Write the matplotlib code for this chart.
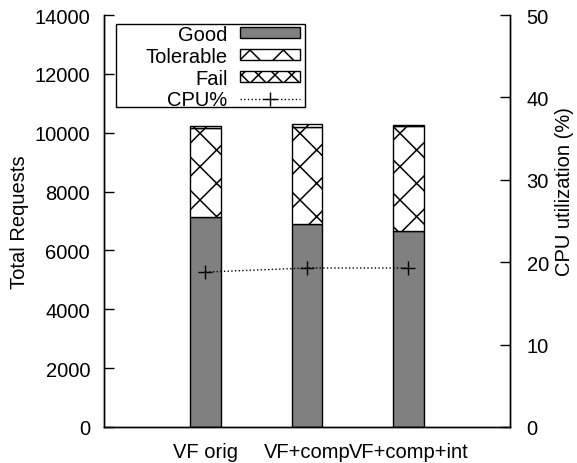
import numpy as np
import matplotlib
matplotlib.use('Agg')
import matplotlib.pyplot as plt
from matplotlib.patches import Patch, Rectangle
from matplotlib.lines import Line2D

plt.rcParams['font.family'] = ['Liberation Sans', 'DejaVu Sans']
plt.rcParams['font.size'] = 14.5
plt.rcParams['hatch.linewidth'] = 1.1

categories = ['VF orig', 'VF+comp', 'VF+comp+int']
good = [7150, 6900, 6650]
fail = [3000, 3285, 3570]
tolerable = [80, 100, 40]
cpu = [18.8, 19.3, 19.3]

x = np.arange(len(categories))
width = 0.3

fig = plt.figure(figsize=(5.77, 4.64), dpi=100)
ax = fig.add_axes([104/577, 1 - 428/464, 406/577, 412/464])
ax2 = ax.twinx()

bottom_fail = np.array(good)
bottom_tol = bottom_fail + np.array(fail)
ax.bar(x, good, width, color='#808080', edgecolor='black', linewidth=1)
ax.bar(x, fail, width, bottom=bottom_fail, color='white', edgecolor='black', linewidth=1, hatch='x')
ax.bar(x, tolerable, width, bottom=bottom_tol, color='white', edgecolor='black', linewidth=1, hatch='x')

ax2.plot(x, cpu, color='black', linestyle=':', linewidth=1, marker='+', markersize=10, markeredgewidth=1)

ax.set_xlim(-1, 3)
ax.set_ylim(0, 14000)
ax.set_yticks(np.arange(0, 14001, 2000))
ax.set_xticks(x)
ax.set_xticklabels(categories)
ax.tick_params(axis='x', length=0, pad=11)
ax.tick_params(axis='y', direction='in', length=7, width=1, pad=10)
ax.set_ylabel('Total Requests')
ax.yaxis.set_label_coords(-0.185, 0.5)

ax2.set_ylim(0, 50)
ax2.set_yticks(np.arange(0, 51, 10))
ax2.tick_params(axis='y', direction='in', length=7, width=1, pad=12)
ax2.set_ylabel('CPU utilization (%)')
ax2.yaxis.set_label_coords(1.111, 0.575)

for a in (ax, ax2):
    a.spines['top'].set_visible(False)
    for s in ('left', 'right', 'bottom'):
        a.spines[s].set_linewidth(1)

# legend box drawn by hand (gnuplot-style key is wider than matplotlib's)
box_l, box_r, box_t, box_b = 116, 305, 25, 108
ax2.add_patch(Rectangle(((box_l - 104)/406, (428 - box_b)/412), (box_r - box_l)/406, (box_b - box_t)/412,
                        transform=ax2.transAxes, facecolor='white', edgecolor='black', linewidth=1,
                        zorder=4, clip_on=False))

handles = [
    Patch(facecolor='#808080', edgecolor='black', linewidth=1),
    Patch(facecolor='white', edgecolor='black', linewidth=1, hatch='x'),
    Patch(facecolor='white', edgecolor='black', linewidth=1, hatch='xx'),
    Line2D([], [], color='black', linestyle=':', linewidth=1, marker='+', markersize=10, markeredgewidth=1),
]
leg = ax2.legend(handles, ['Good', 'Tolerable', 'Fail', 'CPU%'], loc='upper right',
                 bbox_to_anchor=((box_r - 104 - 5)/406, (428 - box_t - 1)/412), borderaxespad=0,
                 markerfirst=False, frameon=False,
                 handlelength=3.0, handleheight=0.48, handletextpad=0.6,
                 labelspacing=0.14, borderpad=0)
leg.set_zorder(5)

fig.savefig('out.png', dpi=100)
